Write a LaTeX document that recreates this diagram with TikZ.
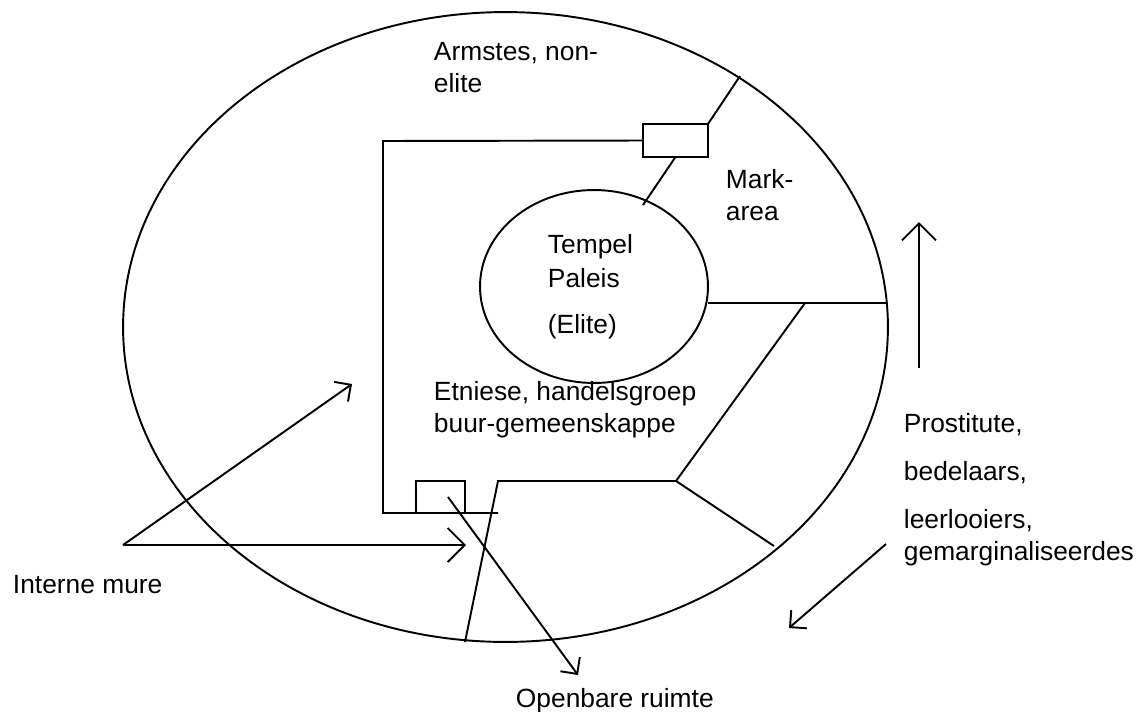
\documentclass[tikz,border=0pt]{standalone}
\usepackage{fontspec}
\setmainfont{Liberation Sans}
\usetikzlibrary{shapes.geometric, arrows.meta}

\tikzset{
  muur/.style={line width=1.1pt},
  poort/.style={draw, inner sep=0, outer sep=0},
  ring/.style={draw, ellipse, inner sep=0, outer sep=0},
  teks/.style={anchor=base west, inner sep=0, align=left},
  pylkop/.style={-{Straight Barb[length=0.24cm,width=0.48cm]}},
  grootpylkop/.style={-{Straight Barb[length=0.34cm,width=0.68cm]}}
}

\begin{document}
\begin{tikzpicture}[x=0.02cm, y=-0.02cm, muur, font=\fontsize{15}{18.2}\selectfont]
  \useasboundingbox (0,0) rectangle (1144,711);

  % stad en tempel
  \node[ring, minimum width=15.3cm, minimum height=12.6cm] (buite) at (505.5,327) {};
  \node[ring, minimum width=4.56cm, minimum height=3.86cm] (binne) at (594,286.5) {};

  % poorte
  \node[poort, minimum width=1.3cm, minimum height=0.66cm] (p1) at (675.5,140.5) {};
  \node[poort, minimum width=0.98cm, minimum height=0.64cm] (p2) at (440.5,497) {};

  \coordinate (w1) at (383,141);
  \coordinate (w2) at (383,513);
  \coordinate (w3) at (498,513);
  \coordinate (s1) at (498,481);
  \coordinate (s2) at (676,481);
  \coordinate (s3) at (805,303);
  % punte op die ringe
  \coordinate (b1) at (740,76);
  \coordinate (b2) at (643,205);
  \coordinate (b3) at (465,642);
  \coordinate (b4) at (708,303);
  \coordinate (b5) at (887,303);
  \coordinate (b6) at (774,546);

  \draw (p1.west) -- (w1) -- (w2) -- (w3);
  \draw (p1.north east) -- (b1);
  \draw (p1.south) -- (b2);
  \draw (b3) -- (s1) -- (s2) -- (s3);
  \draw (b4) -- (b5);
  \draw (s2) -- (b6);

  % teks
  \node[teks] (armstes) at (433,92) {Armstes, non-\\elite};
  \node[teks] (mark) at (725,220) {Mark-\\area};
  \node[teks] (tempel) at (547,253) {Tempel};
  \node[teks] (paleis) at (547,287) {Paleis};
  \node[teks] (elite) at (547,333) {(Elite)};
  \node[teks] (etniese) at (433,432) {Etniese, handelsgroep\\buur-gemeenskappe};
  \node[teks] (prost) at (903,432) {Prostitute,};
  \node[teks] (bedel) at (903,480) {bedelaars,};
  \node[teks] (leer) at (903,560) {leerlooiers,\\gemarginaliseerdes};
  \node[teks] (interne) at (12,593) {Interne mure};
  \node[teks] (openbaar) at (515,707) {Openbare ruimte};

  % pyle
  \coordinate (m0) at (123,545);
  \coordinate (m1) at (352,384);
  \coordinate (m2) at (466,545);
  \coordinate (o0) at (448,497);
  \coordinate (o1) at (578,675);
  \coordinate (u0) at (919,368);
  \coordinate (u1) at (919,222);
  \coordinate (d0) at (886,544);
  \coordinate (d1) at (789,628);

  \draw[pylkop] (m0) -- (m1);
  \draw[grootpylkop] (m0) -- (m2);
  \draw[pylkop] (o0) -- (o1);
  \draw[grootpylkop] (u0) -- (u1);
  \draw[pylkop] (d0) -- (d1);
\end{tikzpicture}
\end{document}
